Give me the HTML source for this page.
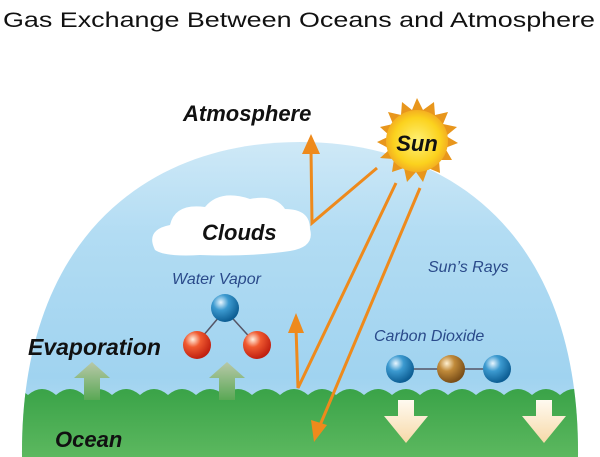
<!DOCTYPE html>
<html><head><meta charset="utf-8"><style>
body{margin:0;width:600px;height:457px;background:#fff;overflow:hidden;font-family:"Liberation Sans",sans-serif}
svg{display:block}
</style></head><body>
<svg width="600" height="457" viewBox="0 0 600 457">
<defs>
<linearGradient id="sky" x1="0" y1="0" x2="0" y2="1">
<stop offset="0" stop-color="#cfe9f7"/><stop offset="0.3" stop-color="#b2dcf3"/><stop offset="0.75" stop-color="#a0d3f0"/><stop offset="1" stop-color="#c3e3f5"/></linearGradient>
<linearGradient id="sea" x1="0" y1="0" x2="0" y2="1"><stop offset="0" stop-color="#3aa348"/><stop offset="1" stop-color="#5cb85f"/></linearGradient>
<radialGradient id="blueb" cx="0.35" cy="0.3" r="0.7"><stop offset="0" stop-color="#e8f6ff"/><stop offset="0.4" stop-color="#3c9ad0"/><stop offset="1" stop-color="#0d5e94"/></radialGradient>
<radialGradient id="redb" cx="0.35" cy="0.3" r="0.7"><stop offset="0" stop-color="#fff0e0"/><stop offset="0.4" stop-color="#f05a30"/><stop offset="1" stop-color="#c02010"/></radialGradient>
<radialGradient id="brownb" cx="0.35" cy="0.3" r="0.7"><stop offset="0" stop-color="#fff0d0"/><stop offset="0.4" stop-color="#c08a3a"/><stop offset="1" stop-color="#7a4e18"/></radialGradient>
<radialGradient id="sun" cx="0.5" cy="0.5" r="0.5"><stop offset="0" stop-color="#fff176"/><stop offset="0.75" stop-color="#fbd21e"/><stop offset="1" stop-color="#f4b020"/></radialGradient>
<linearGradient id="upar" x1="0" y1="0" x2="0" y2="1"><stop offset="0" stop-color="#b8c8a8"/><stop offset="1" stop-color="#5aa855"/></linearGradient>
<linearGradient id="dnar" x1="0" y1="0" x2="0" y2="1"><stop offset="0" stop-color="#fffaf0"/><stop offset="1" stop-color="#f7d9a8"/></linearGradient>
<clipPath id="dome"><path d="M22 457 C20 235 150 142 300 142 C450 142 580 235 578 457Z"/></clipPath>
</defs>
<text x="3" y="27" font-size="21" textLength="592" lengthAdjust="spacingAndGlyphs" fill="#111">Gas Exchange Between Oceans and Atmosphere</text>
<g clip-path="url(#dome)">
<rect x="0" y="140" width="600" height="317" fill="url(#sky)"/>
<path fill="url(#sea)" d="M0 395 q14 -12 28 0 q14 -12 28 0 q14 -12 28 0 q14 -12 28 0 q14 -12 28 0 q14 -12 28 0 q14 -12 28 0 q14 -12 28 0 q14 -12 28 0 q14 -12 28 0 q14 -12 28 0 q14 -12 28 0 q14 -12 28 0 q14 -12 28 0 q14 -12 28 0 q14 -12 28 0 q14 -12 28 0 q14 -12 28 0 q14 -12 28 0 q14 -12 28 0 q14 -12 28 0 q14 -12 28 0 L600 457 L0 457Z"/>
</g>
<path fill="#fff" d="M155 250 q-10 -20 15 -25 q5 -22 35 -18 q15 -18 45 -8 q25 -5 35 10 q25 0 25 20 q5 18 -20 22 q-40 6 -90 4 q-35 2 -45 -5z"/>
<g>
<polygon fill="#e8961c" points="417,98 423,110 434,102 435,115 448,112 443,124 457,127 446,136 458,143 445,148 452,160 439,160 440,173 428,168 423,182 416,172 407,182 404,168 392,172 394,159 380,158 390,149 377,142 390,136 380,127 393,124 388,112 401,115 402,102 412,110"/>
<circle cx="417" cy="141" r="31" fill="url(#sun)"/>
<text x="417" y="151" text-anchor="middle" font-size="22" font-weight="bold" font-style="italic" fill="#111">Sun</text>
</g>
<g stroke="#ee8a1c" stroke-width="3" fill="none">
<polyline points="377,168 312,223 311,150"/>
<polyline points="396,183 298,388 296,328"/>
<line x1="420" y1="188" x2="318" y2="430"/>
</g>
<g fill="#ee8a1c">
<polygon points="311,134 302,154 320,154"/>
<polygon points="296,313 288,333 304,333"/>
<polygon points="314,442 311,420 327,425"/>
</g>
<polygon fill="url(#upar)" points="92,362 74,378 84,378 84,400 100,400 100,378 110,378"/>
<polygon fill="url(#upar)" points="227,362 209,378 219,378 219,400 235,400 235,378 245,378"/>
<polygon fill="url(#dnar)" points="398,400 414,400 414,416 428,416 406,443 384,416 398,416"/>
<polygon fill="url(#dnar)" points="536,400 552,400 552,416 566,416 544,443 522,416 536,416"/>
<g stroke="#556" stroke-width="1.5">
<line x1="225" y1="310" x2="197" y2="343"/><line x1="225" y1="310" x2="255" y2="343"/>
<circle cx="225" cy="308" r="14" fill="url(#blueb)" stroke="none"/>
<circle cx="197" cy="345" r="14" fill="url(#redb)" stroke="none"/>
<circle cx="257" cy="345" r="14" fill="url(#redb)" stroke="none"/>
</g>
<g stroke="#556" stroke-width="1.5">
<line x1="400" y1="369" x2="497" y2="369"/>
<circle cx="400" cy="369" r="14" fill="url(#blueb)" stroke="none"/>
<circle cx="451" cy="369" r="14" fill="url(#brownb)" stroke="none"/>
<circle cx="497" cy="369" r="14" fill="url(#blueb)" stroke="none"/>
</g>
<g font-style="italic" font-weight="bold" fill="#111">
<text x="183" y="121" font-size="22">Atmosphere</text>
<text x="202" y="240" font-size="22">Clouds</text>
<text x="28" y="355" font-size="23">Evaporation</text>
<text x="55" y="447" font-size="22">Ocean</text>
</g>
<g font-style="italic" font-size="16" fill="#2a4a8a">
<text x="172" y="284">Water Vapor</text>
<text x="428" y="272">Sun’s Rays</text>
<text x="374" y="341">Carbon Dioxide</text>
</g>
</svg>
</body></html>
